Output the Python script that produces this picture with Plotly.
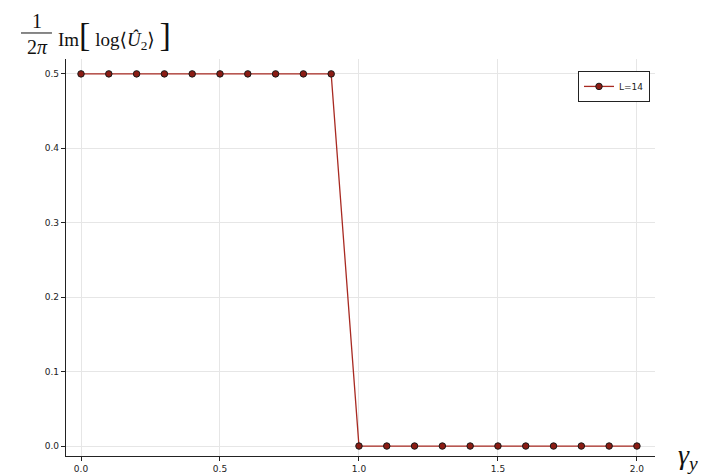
import plotly.graph_objects as go

gamma_y = [0.0, 0.1, 0.2, 0.3, 0.4, 0.5, 0.6, 0.7, 0.8, 0.9, 1.0,
           1.1, 1.2, 1.3, 1.4, 1.5, 1.6, 1.7, 1.8, 1.9, 2.0]
im_log_u2 = [0.5, 0.5, 0.5, 0.5, 0.5, 0.5, 0.5, 0.5, 0.5, 0.5, 0.0,
             0.0, 0.0, 0.0, 0.0, 0.0, 0.0, 0.0, 0.0, 0.0, 0.0]
series_name = "L=14"
x_ticks = [0.0, 0.5, 1.0, 1.5, 2.0]
x_tick_text = ["0.0", "0.5", "1.0", "1.5", "2.0"]
y_ticks = [0.0, 0.1, 0.2, 0.3, 0.4, 0.5]
y_tick_text = ["0.0", "0.1", "0.2", "0.3", "0.4", "0.5"]

fig = go.Figure()
fig.add_trace(go.Scatter(
    x=gamma_y, y=im_log_u2, name=series_name, mode="lines+markers",
    line=dict(color="#a82a22", width=1.3),
    marker=dict(size=6.5, color="#8b1c14", line=dict(color="#1a1a1a", width=1)),
))

serif = "Liberation Serif, DejaVu Serif, serif"
fig.update_layout(
    width=708, height=475,
    margin=dict(l=66, r=53, t=59, b=19, autoexpand=False),
    paper_bgcolor="white", plot_bgcolor="white",
    showlegend=True,
    legend=dict(x=0.9915, y=0.97, xanchor="right", yanchor="top",
                bordercolor="#222", borderwidth=1, bgcolor="white",
                font=dict(size=9, color="#222", family="DejaVu Sans"),
                itemwidth=30, tracegroupgap=0),
    xaxis=dict(range=[-0.054, 2.065], tickvals=x_ticks, ticktext=x_tick_text,
               automargin=False,
               showgrid=True, gridcolor="#e6e6e6", gridwidth=1,
               zeroline=False, showline=True, linecolor="#222", linewidth=1.2,
               ticks="outside", ticklen=4, tickcolor="#222",
               tickfont=dict(size=9, color="#222", family="DejaVu Sans")),
    yaxis=dict(range=[-0.0134, 0.52], tickvals=y_ticks, ticktext=y_tick_text,
               automargin=False,
               showgrid=True, gridcolor="#e6e6e6", gridwidth=1,
               zeroline=False, showline=True, linecolor="#222", linewidth=1.2,
               ticks="outside", ticklen=4, tickcolor="#222",
               tickfont=dict(size=9, color="#222", family="DejaVu Sans")),
)

# y-axis label: (1 / 2π) Im[ log⟨Û₂⟩ ]
fig.add_annotation(text="1", xref="paper", yref="paper", x=-0.049, y=1.096,
                   xanchor="center", yanchor="middle",
                   showarrow=False, font=dict(size=20, family=serif, color="#111"))
fig.add_annotation(text="2<i>π</i>", xref="paper", yref="paper", x=-0.049, y=1.030,
                   xanchor="center", yanchor="middle",
                   showarrow=False, font=dict(size=20, family=serif, color="#111"))
fig.add_shape(type="line", xref="paper", yref="paper",
              x0=-0.0764, x1=-0.0238, y0=1.0655, y1=1.0655,
              line=dict(color="#111", width=1))
fig.add_annotation(text="Im<span style='font-size:34px'>[</span> log⟨<i>Û</i><sub>2</sub>⟩ <span style='font-size:34px'>]</span>",
                   xref="paper", yref="paper", x=-0.017, y=1.062,
                   xanchor="left", yanchor="middle",
                   showarrow=False, font=dict(size=19, family=serif, color="#111"))

# x-axis label
fig.add_annotation(text="<i>γ</i><sub><i>y</i></sub>", xref="paper", yref="paper",
                   x=1.036, y=0.0, xanchor="left", yanchor="middle",
                   showarrow=False,
                   font=dict(size=28, family=serif, color="#111"))

fig.write_html("out.html", config={"displayModeBar": False},
               post_script="document.body.style.margin='0';document.body.style.padding='0';")
